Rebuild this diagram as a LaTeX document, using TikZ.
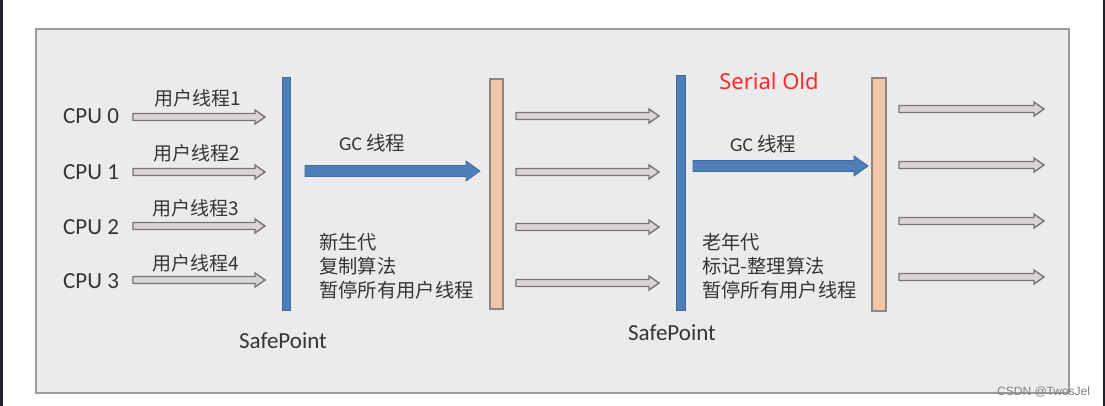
\documentclass[tikz,border=0pt]{standalone}
\usepackage{fontspec}
\setmainfont{Carlito}
\newfontfamily\cjk{Noto Sans CJK SC}
\newfontfamily\notosans{Noto Sans}
\newfontfamily\wmfont{Liberation Sans}
\definecolor{boxfill}{HTML}{EBEBEB}
\definecolor{boxline}{HTML}{9C9C9C}
\definecolor{darkstrip}{HTML}{1F2329}
\definecolor{txt}{HTML}{353535}
\definecolor{bluefill}{HTML}{4F7FBA}
\definecolor{blueline}{HTML}{3F6A9E}
\definecolor{peach}{HTML}{F1C6A6}
\definecolor{peachline}{HTML}{8E8682}
\definecolor{hollowfill}{HTML}{DAD4D4}
\definecolor{hollowline}{HTML}{767676}
\definecolor{serialred}{HTML}{FF2A2A}
\tikzset{
  cpulabel/.style={anchor=west, inner sep=0pt, text=txt, font=\fontsize{23}{27}\selectfont},
  threadlabel/.style={anchor=west, inner sep=0pt, text=txt, font=\cjk\fontsize{19}{22}\selectfont},
  gclabel/.style={anchor=west, inner sep=0pt, text=txt, font=\fontsize{19.5}{22}\selectfont},
  notelabel/.style={anchor=north west, inner sep=0pt, text=txt, align=left, font=\cjk\fontsize{19.3}{24}\selectfont},
  safelabel/.style={inner sep=0pt, text=txt, font=\fontsize{23}{27}\selectfont},
  hollow/.style={fill=hollowfill, draw=hollowline, line width=1.4pt, line join=miter},
  bluearr/.style={fill=bluefill, draw=blueline, line width=0.8pt, line join=miter},
  bluebar/.style={fill=bluefill, draw=blueline, line width=0.8pt},
  peachbar/.style={fill=peach, draw=peachline, line width=1.4pt},
}
\newcommand\hollowarr[3]{%
  \draw[hollow] (#1,#3-3.5) -- (#2-10,#3-3.5) -- (#2-10,#3-7) -- (#2,#3) -- (#2-10,#3+7) -- (#2-10,#3+3.5) -- (#1,#3+3.5) -- cycle;}
\newcommand\bluearrow[3]{%
  \draw[bluearr] (#1,#3-5.5) -- (#2-14,#3-5.5) -- (#2-14,#3-10) -- (#2,#3) -- (#2-14,#3+10) -- (#2-14,#3+5.5) -- (#1,#3+5.5) -- cycle;}
\begin{document}
\begin{tikzpicture}[x=1pt,y=-1pt]
\useasboundingbox (0,0) rectangle (1105,406);
\fill[white] (0,0) rectangle (1105,406);
% dark edge strips
\fill[darkstrip] (0,0) rectangle (2.5,406);
\fill[darkstrip] (1102.5,0) rectangle (1105,406);
% main panel
\draw[fill=boxfill, draw=boxline, line width=2pt] (36,29) rectangle (1069,393);

% CPU labels
\node[cpulabel] (cpu0) at (63,116) {CPU 0};
\node[cpulabel] (cpu1) at (63,172) {CPU 1};
\node[cpulabel] (cpu2) at (63,227) {CPU 2};
\node[cpulabel] (cpu3) at (63,281) {CPU 3};

% user thread arrows
\hollowarr{133}{265}{117}
\hollowarr{133}{265}{172}
\hollowarr{133}{265}{226}
\hollowarr{133}{265}{280}
\node[threadlabel] (ut1) at (154,98) {用户线程1};
\node[threadlabel] (ut2) at (153,153) {用户线程2};
\node[threadlabel] (ut3) at (152,208) {用户线程3};
\node[threadlabel] (ut4) at (152,263) {用户线程4};

% first safepoint bar
\draw[bluebar] (282,77) rectangle (290,310);
\node[safelabel] (sp1) at (283,341) {SafePoint};

% GC thread 1
\node[gclabel] (gc1) at (339,143) {GC {\cjk 线程}};
\bluearrow{305}{480}{171}
\node[notelabel] (note1) at (319,233) {新生代\\复制算法\\暂停所有用户线程};

% first peach bar
\draw[peachbar] (490,79) rectangle (503,309);

% middle arrows
\hollowarr{516}{659}{116}
\hollowarr{516}{659}{172}
\hollowarr{516}{659}{227}
\hollowarr{516}{659}{283}

% second safepoint bar
\draw[bluebar] (676,75) rectangle (685,310);
\node[safelabel] (sp2) at (672,333) {SafePoint};
\node[inner sep=0pt, text=serialred, font=\notosans\fontsize{22}{26}\selectfont] (serial) at (769,81) {Serial Old};

% GC thread 2
\node[gclabel] (gc2) at (730,144) {GC {\cjk 线程}};
\bluearrow{693}{868}{166}
\node[notelabel] (note2) at (702,233) {老年代\\标记-整理算法\\暂停所有用户线程};

% second peach bar
\draw[peachbar] (872,78) rectangle (886,311);

% right arrows
\hollowarr{899}{1044}{109}
\hollowarr{899}{1044}{165}
\hollowarr{899}{1044}{221}
\hollowarr{899}{1044}{277}

% watermark
\node[anchor=west, inner sep=0pt, text=black!50, font=\wmfont\fontsize{12}{14}\selectfont] (wm) at (997,392) {CSDN @TwosJel};
\end{tikzpicture}
\end{document}
